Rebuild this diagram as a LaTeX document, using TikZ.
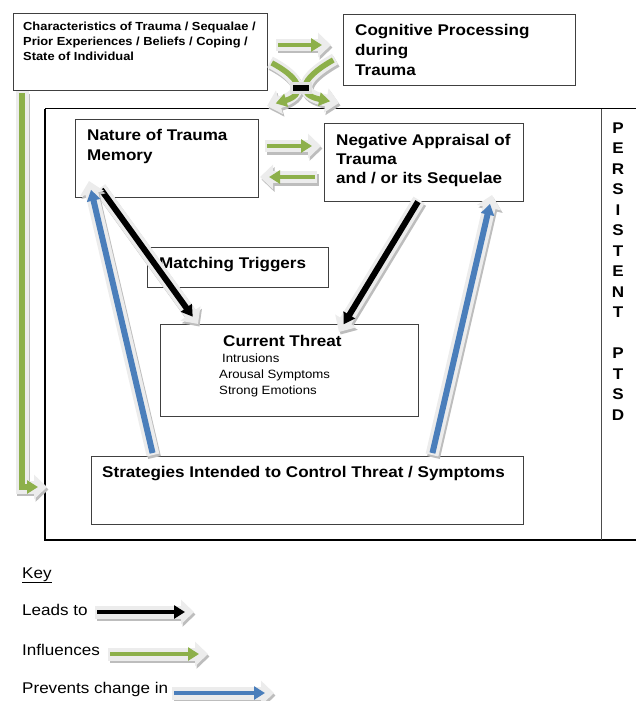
\documentclass[tikz,border=0pt]{standalone}
\usepackage{fontspec}
\setmainfont{Liberation Sans}[FakeStretch=1.1]
\usetikzlibrary{arrows.meta}
\definecolor{kgreen}{HTML}{8DB04A}
\definecolor{kblue}{HTML}{4A7EBB}
\definecolor{kbody}{HTML}{ECECEC}
\definecolor{kshadow}{HTML}{BDBDBD}
\newcommand{\karrow}[4][13pt]{%
  \draw[kshad, line width=#1] #4;
  \draw[kbod, line width=#1] #4;
  \draw[kcore, draw=#2, line width=#3] #4;
}
\begin{document}
\begin{tikzpicture}[x=1pt,y=-1pt,
  box/.style={draw=black!75, line width=0.9pt, anchor=north west, inner sep=0pt},
  bt/.style={font=\bfseries\fontsize{15.5}{19.5}\selectfont, align=left, inner sep=0pt, anchor=north west},
  nt/.style={font=\fontsize{12}{16}\selectfont, align=left, inner sep=0pt, anchor=north west},
  kt/.style={font=\fontsize{15.5}{19}\selectfont, inner sep=0pt, anchor=base west},
  frame/.style={draw=black, line width=1.6pt},
  kshad/.style={draw=kshadow, line join=miter, -{Triangle[length=13pt,width=24pt]}, transform canvas={shift={(1.5pt,-2.5pt)}}},
  kbod/.style={draw=kbody, line join=miter, -{Triangle[length=13pt,width=24pt]}},
  kcore/.style={line join=miter, -{Triangle[length=11pt,width=13pt]}, shorten >=9pt, shorten <=2pt}
]
\useasboundingbox (0,0) rectangle (636,701);

% frame
\draw[frame] (45,108.5) -- (636,108.5);
\draw[frame] (45,108.5) -- (45,540) -- (636,540);
\draw[draw=black!70, line width=1pt] (601,108.5) -- (601,540);

% boxes
\node[box, minimum width=254, minimum height=77] (char) at (13,13) {};
\node[box, minimum width=232, minimum height=71] (cog) at (343,14) {};
\node[box, minimum width=183, minimum height=78] (nat) at (75,119) {};
\node[box, minimum width=199, minimum height=78] (neg) at (324,123) {};
\node[box, minimum width=181, minimum height=40] (match) at (147,247) {};
\node[box, minimum width=258, minimum height=92] (threat) at (160,324) {};
\node[box, minimum width=432, minimum height=68] (strat) at (91,456) {};

% texts
\node[bt, font=\bfseries\fontsize{11.7}{15}\selectfont] (charT) at (23,21.6)
  {Characteristics of Trauma / Sequalae /\\Prior Experiences / Beliefs / Coping /\\State of Individual};
\node[bt, font=\bfseries\fontsize{15.5}{20}\selectfont] (cogT) at (355,23.7) {Cognitive Processing\\during\\Trauma};
\node[bt, font=\bfseries\fontsize{15.5}{20}\selectfont] (natT) at (87,128.7) {Nature of Trauma\\Memory};
\node[bt, font=\bfseries\fontsize{15.5}{19}\selectfont] (negT) at (336,133.7) {Negative Appraisal of\\Trauma\\and / or its Sequelae};
\node[bt, anchor=base west] (matchT) at (159,268) {Matching Triggers};
\node[bt, anchor=base west] (threatT) at (223,346) {Current Threat};
\node[nt] (threatI) at (219,353.4) {\hspace{3pt}Intrusions\\Arousal Symptoms\\Strong Emotions};
\node[bt, anchor=base west] (stratT) at (102,477) {Strategies Intended to Control Threat / Symptoms};
\node[bt, align=center, anchor=north, font=\bfseries\fontsize{15.5}{20.5}\selectfont] (ptsd) at (618,122.5)
  {P\\E\\R\\S\\I\\S\\T\\E\\N\\T\\[20.5pt]P\\T\\S\\D};

% key
\node[kt] (key) at (22,578) {\underline{Key}};
\node[kt] (k1) at (22,615) {Leads to};
\node[kt] (k2) at (22,655) {Influences};
\node[kt] (k3) at (22,693) {Prevents change in};

% arrow end coordinates
\coordinate (gL1) at (22,91);
\coordinate (gL2) at (22,487);
\coordinate (gL3) at (47,487);
\coordinate (gT1) at (276,45);
\coordinate (gT2) at (331,45);
\coordinate (gN1) at (265,146);
\coordinate (gN2) at (321,146);
\coordinate (gM1) at (317,177);
\coordinate (gM2) at (260,177);
\coordinate (xl1) at (270,62);
\coordinate (xl2) at (267,106);
\coordinate (xr1) at (335,59);
\coordinate (xr2) at (339,103);
\coordinate (bk1a) at (100,188);
\coordinate (bk1b) at (198,324);
\coordinate (bk2a) at (419,200);
\coordinate (bk2b) at (339,332);
\coordinate (bl1a) at (153,455);
\coordinate (bl1b) at (89,181);
\coordinate (bl2a) at (432,455);
\coordinate (bl2b) at (492,195);
\coordinate (lk1a) at (95,612);
\coordinate (lk1b) at (194,612);
\coordinate (lk2a) at (108,654);
\coordinate (lk2b) at (208,654);
\coordinate (lk3a) at (172,693);
\coordinate (lk3b) at (274,693);

% influences
\karrow{kgreen}{5.5pt}{(gL1) -- (gL2) -- (gL3)}
\karrow[12pt]{kgreen}{4.5pt}{(gT1) -- (gT2)}
\karrow[12pt]{kgreen}{4.5pt}{(gN1) -- (gN2)}
\karrow[12pt]{kgreen}{4.5pt}{(gM1) -- (gM2)}
\karrow[12pt]{kgreen}{5.5pt}{(xl1) .. controls (304,80) and (304,95) .. (xl2)}
\karrow[12pt]{kgreen}{5.5pt}{(xr1) .. controls (298,80) and (298,95) .. (xr2)}
\node[fill=black, draw=black!12, line width=3pt, minimum width=19, minimum height=9, inner sep=0pt] (minus) at (301,88) {};

% leads to
\karrow{black}{6pt}{(bk1a) -- (bk1b)}
\karrow{black}{6pt}{(bk2a) -- (bk2b)}

% prevents change in
\karrow{kblue}{6pt}{(bl1a) -- (bl1b)}
\karrow{kblue}{6pt}{(bl2a) -- (bl2b)}

% key arrows
\karrow{black}{4.5pt}{(lk1a) -- (lk1b)}
\karrow{kgreen}{4pt}{(lk2a) -- (lk2b)}
\karrow{kblue}{3.5pt}{(lk3a) -- (lk3b)}
\end{tikzpicture}
\end{document}
